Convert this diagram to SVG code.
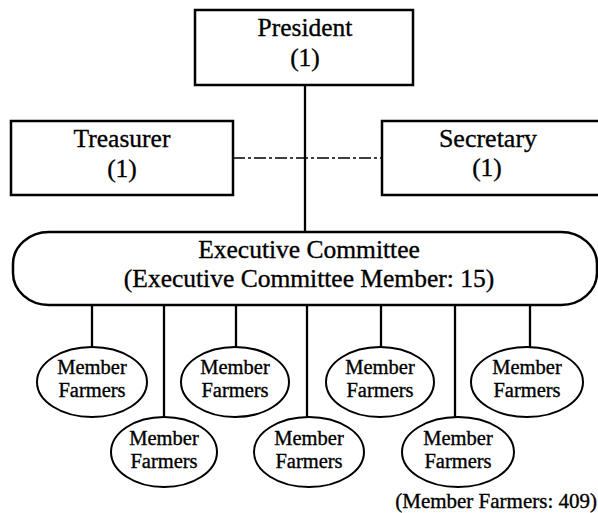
<svg xmlns="http://www.w3.org/2000/svg" width="598" height="513" viewBox="0 0 598 513">
<style>
text{font-family:"Liberation Serif","Times New Roman",serif;fill:#000;stroke:#000;stroke-width:0.35;text-anchor:middle}
.box{fill:#fff;stroke:#000;stroke-width:2.5}
.ell{fill:#fff;stroke:#000;stroke-width:2}
.big{font-size:25.5px}
.mf{font-size:20.5px}
.con{stroke:#000;stroke-width:2.3;fill:none}
.dash{stroke:#000;stroke-width:1.3;fill:none;stroke-dasharray:12 3 3 3}
</style>
<rect width="598" height="513" fill="#fff" stroke="none"/>
<g id="connectors">
<line class="con" x1="305" y1="85" x2="305" y2="232"/>
<line class="dash" x1="233" y1="158" x2="382" y2="158"/>
<line class="con" x1="92" y1="305" x2="92" y2="347"/>
<line class="con" x1="236" y1="305" x2="236" y2="347"/>
<line class="con" x1="381" y1="305" x2="381" y2="347"/>
<line class="con" x1="530" y1="305" x2="530" y2="347"/>
<line class="con" x1="164" y1="305" x2="164" y2="417"/>
<line class="con" x1="307" y1="305" x2="307" y2="417"/>
<line class="con" x1="455" y1="305" x2="455" y2="417"/>
</g>
<g id="president">
<rect class="box" x="195" y="10" width="218" height="75"/>
<text class="big" x="305" y="36">President</text>
<text class="big" x="305" y="66">(1)</text>
</g>
<g id="treasurer">
<rect class="box" x="11" y="121" width="222" height="74"/>
<text class="big" x="122" y="147">Treasurer</text>
<text class="big" x="122" y="177">(1)</text>
</g>
<g id="secretary">
<rect class="box" x="382" y="121" width="230" height="74"/>
<text class="big" x="488" y="147" style="font-size:26px">Secretary</text>
<text class="big" x="487" y="176">(1)</text>
</g>
<g id="executive-committee">
<rect class="box" x="13" y="232" width="584" height="73" rx="36" ry="32"/>
<text class="big" x="309" y="258">Executive Committee</text>
<text class="big" x="309" y="287">(Executive Committee Member: 15)</text>
</g>
<g id="farmers1">
<ellipse class="ell" cx="92" cy="382" rx="55" ry="35"/>
<text class="mf" x="92" y="374">Member</text>
<text class="mf" x="92" y="397">Farmers</text>
</g>
<g id="farmers2">
<ellipse class="ell" cx="235" cy="382" rx="54" ry="35"/>
<text class="mf" x="235" y="374">Member</text>
<text class="mf" x="235" y="397">Farmers</text>
</g>
<g id="farmers3">
<ellipse class="ell" cx="380" cy="382" rx="54" ry="35"/>
<text class="mf" x="380" y="374">Member</text>
<text class="mf" x="380" y="397">Farmers</text>
</g>
<g id="farmers4">
<ellipse class="ell" cx="527" cy="382" rx="56" ry="35"/>
<text class="mf" x="527" y="374">Member</text>
<text class="mf" x="527" y="397">Farmers</text>
</g>
<g id="farmers5">
<ellipse class="ell" cx="164" cy="452" rx="53" ry="35"/>
<text class="mf" x="164" y="445">Member</text>
<text class="mf" x="164" y="468">Farmers</text>
</g>
<g id="farmers6">
<ellipse class="ell" cx="309" cy="452" rx="55" ry="35"/>
<text class="mf" x="309" y="445">Member</text>
<text class="mf" x="309" y="468">Farmers</text>
</g>
<g id="farmers7">
<ellipse class="ell" cx="458" cy="452" rx="56" ry="35"/>
<text class="mf" x="458" y="445">Member</text>
<text class="mf" x="458" y="468">Farmers</text>
</g>
<text x="597" y="508" style="font-size:21px;text-anchor:end">(Member Farmers: 409)</text>
</svg>
